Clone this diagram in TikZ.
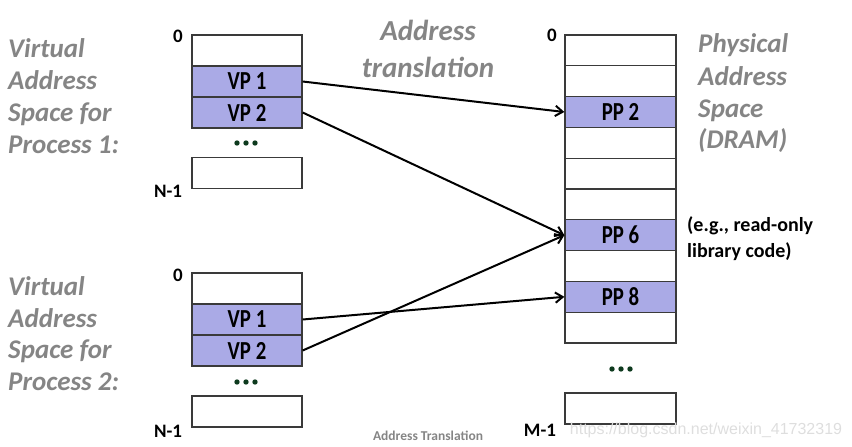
\documentclass[tikz,border=0pt]{standalone}
\usepackage{fontspec}
\setmainfont{Carlito}
\newfontfamily\narrowfont[FakeStretch=0.8]{Carlito}
\newfontfamily\wmfont{Liberation Sans}
\usetikzlibrary{arrows.meta}
\definecolor{lav}{HTML}{AAAAE6}
\definecolor{bordergray}{HTML}{3A3A3A}
\definecolor{labgray}{HTML}{858585}
\definecolor{dotgreen}{HTML}{0E3A1E}
\begin{document}
\begin{tikzpicture}[x=1pt,y=-1pt,
  cell/.style={draw=bordergray, line width=1.3pt, minimum width=110pt, minimum height=30.8pt, inner sep=0pt, font=\narrowfont\fontsize{26}{26}\selectfont\bfseries},
  rcell/.style={cell, minimum width=111pt},
  hl/.style={fill=lav},
  side/.style={anchor=base west, inner sep=0pt, text=labgray, font=\fontsize{27}{27}\selectfont\bfseries\itshape},
  ttl/.style={anchor=base, inner sep=0pt, text=labgray, font=\fontsize{29}{29}\selectfont\bfseries\itshape},
  idx/.style={inner sep=0pt, font=\fontsize{19}{19}\selectfont\bfseries},
  note/.style={anchor=base west, inner sep=0pt, font=\fontsize{20}{20}\selectfont\bfseries},
  map/.style={line width=2pt, -{Straight Barb[angle=70:9pt, line width=2pt]}},
  dot/.style={fill=dotgreen}
]
\path[use as bounding box] (0,0) rectangle (852,447);

% ---- Process 1 ----
\node[side] (l1a) at (8,57) {Virtual};
\node[side] (l1b) at (8,89) {Address};
\node[side] (l1c) at (8,121) {Space for};
\node[side] (l1d) at (8,153) {Process 1:};

\node[cell] (a0) at (247,50.5) {};
\node[cell,hl] (a1) at (247,81.5) {VP 1};
\node[cell,hl] (a2) at (247,112.5) {VP 2};
\node[cell] (an) at (247,173) {};
\node[idx] (a0l) at (178,36) {0};
\node[idx] (anl) at (168,191) {N-1};
\fill[dot] (237,143) circle (2.7pt) (246,143) circle (2.7pt) (255,143) circle (2.7pt);

% ---- Process 2 ----
\node[side] (l2a) at (8,295) {Virtual};
\node[side] (l2b) at (8,327) {Address};
\node[side] (l2c) at (8,358) {Space for};
\node[side] (l2d) at (8,390) {Process 2:};

\node[cell] (b0) at (247,288.5) {};
\node[cell,hl] (b1) at (247,319.5) {VP 1};
\node[cell,hl] (b2) at (247,350.5) {VP 2};
\node[cell] (bn) at (247,411.5) {};
\node[idx] (b0l) at (178,275) {0};
\node[idx] (bnl) at (168,431) {N-1};
\fill[dot] (237,382) circle (2.7pt) (246,382) circle (2.7pt) (255,382) circle (2.7pt);

% ---- Title ----
\node[ttl] (t1) at (428,40) {Address};
\node[ttl] (t2) at (428,77) {translation};

% ---- Physical memory ----
\node[rcell] (p0) at (620.5,50.4) {};
\node[rcell] (p1) at (620.5,81.2) {};
\node[rcell,hl] (p2) at (620.5,112.0) {PP 2};
\node[rcell] (p3) at (620.5,142.8) {};
\node[rcell] (p4) at (620.5,173.6) {};
\node[rcell] (p5) at (620.5,204.4) {};
\node[rcell,hl] (p6) at (620.5,235.2) {PP 6};
\node[rcell] (p7) at (620.5,266.0) {};
\node[rcell,hl] (p8) at (620.5,296.8) {PP 8};
\node[rcell] (p9) at (620.5,327.6) {};
\node[rcell] (pm) at (620.5,408.5) {};
\node[idx] (p0l) at (552,35) {0};
\node[idx] (pml) at (540,430) {M-1};
\fill[dot] (612,369) circle (2.7pt) (621,369) circle (2.7pt) (630,369) circle (2.7pt);

\node[side] (r1) at (698,52) {Physical};
\node[side] (r2) at (698,85) {Address};
\node[side] (r3) at (698,117) {Space};
\node[side] (r4) at (698,148) {(DRAM)};

\node[note] (n1) at (687,231) {(e.g., read-only};
\node[note] (n2) at (687,257) {library code)};

% ---- Mappings ----
\draw[map] (a1.east) -- (p2.west);
\draw[map] (a2.east) -- (p6.west);
\draw[map] (b1.east) -- (p8.west);
\draw[map] (b2.east) -- (p6.west);

% ---- Caption & watermark ----
\node[inner sep=0pt, text=labgray, font=\fontsize{13.5}{13.5}\selectfont\bfseries] (cap) at (428,436) {Address Translation};
\node[inner sep=0pt, text=black!13, font=\wmfont\fontsize{16}{16}\selectfont] (wm) at (706,430) {https://blog.csdn.net/weixin\_41732319};
\end{tikzpicture}
\end{document}
